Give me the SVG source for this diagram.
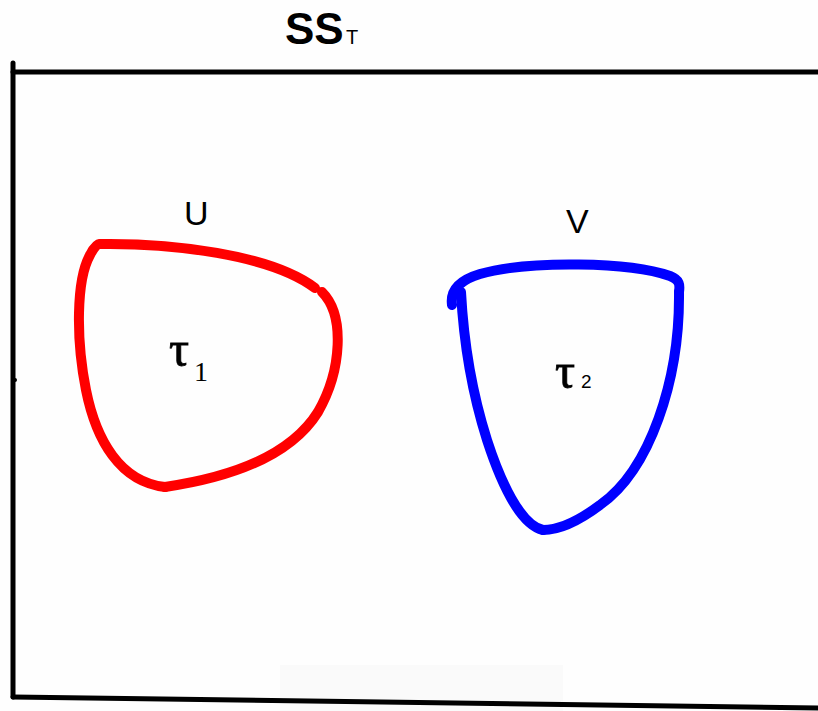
<svg xmlns="http://www.w3.org/2000/svg" width="818" height="711" viewBox="0 0 818 711">
<style>
.frame{stroke:#000;stroke-width:5;fill:none;stroke-linecap:round}
.red{stroke:#ff0000;stroke-width:10;fill:none;stroke-linecap:round;stroke-linejoin:round}
.blue{stroke:#0000ff;stroke-width:10;fill:none;stroke-linecap:round;stroke-linejoin:round}
.lbl{font-family:"Liberation Sans",Arial,sans-serif;fill:#000}
.tau{font-family:"Liberation Serif","Times New Roman",serif;fill:#000}
</style>
<rect width="818" height="711" fill="#fefefe"/>
<rect x="280" y="665" width="283" height="46" fill="#fafafa"/>
<g id="frame">
<path class="frame" d="M13,63 L13,697"/>
<path class="frame" d="M13,72 L818,72"/>
<path class="frame" d="M13,697 L818,708"/>
<circle cx="15" cy="380" r="2" fill="#000"/>
</g>
<g id="title">
<text class="lbl" x="285" y="44" font-size="44" font-weight="bold">SS</text>
<text class="lbl" x="346" y="44" font-size="20">T</text>
</g>
<g id="U">
<path class="red" d="M100,244 C170,243 270,254 315,288"/>
<path class="red" d="M322,292 C345,315 342,370 318,412 C293,452 240,476 165,487"/>
<path class="red" d="M165,487 C120,482 96,440 86,390 C76,340 76,280 90,255 C94,247 97,244 100,244"/>
<text class="lbl" x="184" y="225" font-size="34">U</text>
<text class="tau" x="169" y="366" font-size="50" stroke="#000" stroke-width="0.8">τ</text>
<text class="tau" x="194" y="381" font-size="28">1</text>
</g>
<g id="V">
<path class="blue" d="M452,305 C450,290 460,280 480,274 C530,260 630,262 670,276 C680,280 680,285 679,292"/>
<path class="blue" d="M679,292 C680,380 650,470 600,505 C580,520 560,530 543,530"/>
<path class="blue" d="M543,530 C520,525 500,480 487,440 C468,380 463,330 461,292"/>
<text class="lbl" x="566" y="233" font-size="34">V</text>
<text class="tau" x="555" y="388" font-size="50" stroke="#000" stroke-width="0.8">τ</text>
<text class="lbl" x="581" y="388" font-size="19">2</text>
</g>
</svg>
